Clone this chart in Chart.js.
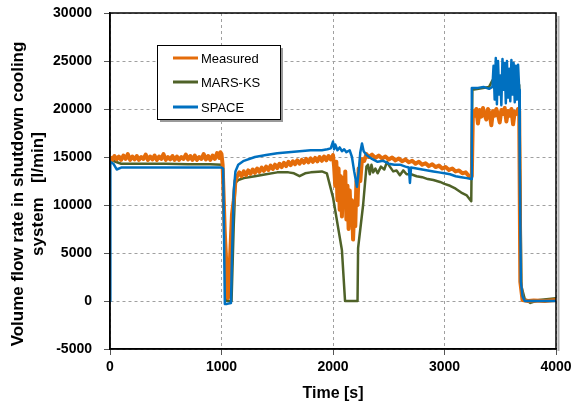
<!DOCTYPE html>
<html>
<head>
<meta charset="utf-8">
<script src="https://cdn.jsdelivr.net/npm/chart.js@4/dist/chart.umd.min.js"></script>
<style>
  html, body { margin: 0; padding: 0; background: #fff; }
</style>
</head>
<body>
<canvas id="flow_chart" width="572" height="406"></canvas>
<script>
// Measured (orange)
const measuredT = [0,20,40,60,80,100,120,140,160,180,200,220,240,260,280,300,320,340,360,380,400,420,440,460,480,500,520,540,560,580,600,620,640,660,680,700,720,740,760,780,800,820,840,860,880,900,920,940,960,980,990,1000,1010,1030,1058,1075,1094,1110,1125,1140,1160,1180,1200,1220,1240,1260,1280,1300,1320,1340,1360,1380,1400,1420,1440,1460,1480,1500,1520,1540,1560,1580,1600,1620,1640,1660,1680,1700,1720,1740,1760,1780,1800,1820,1840,1860,1880,1900,1920,1940,1960,1980,2000,2010,2020,2030,2040,2050,2060,2070,2080,2090,2100,2110,2120,2130,2140,2150,2160,2170,2180,2190,2200,2210,2220,2230,2245,2260,2280,2300,2320,2350,2380,2410,2440,2470,2500,2530,2560,2590,2620,2650,2680,2710,2740,2770,2800,2830,2860,2890,2920,2950,2980,3010,3040,3070,3100,3130,3160,3190,3220,3245,3255,3270,3285,3300,3315,3330,3345,3360,3375,3390,3405,3420,3435,3450,3465,3480,3495,3510,3525,3540,3555,3570,3585,3600,3615,3630,3645,3660,3670,3680,3700,3750,3800,3900,4000];
const measuredV = [15000,14700,15100,14750,15050,14700,15150,14800,15300,14700,15050,14750,15100,14700,15000,14800,15250,14700,15050,14750,15150,14700,15050,14800,15300,14700,15000,14750,15100,14700,15050,14700,15000,14800,15250,14750,15100,14700,15150,14700,15000,14800,15300,14750,15100,14700,15150,14800,15400,14900,15500,15300,14200,7000,300,4000,9000,10500,12500,13000,13400,13000,13500,13100,13600,13250,13700,13350,13800,13450,13900,13550,14000,13650,14100,13750,14200,13850,14300,13950,14400,14050,14500,14150,14550,14250,14650,14300,14700,14400,14800,14450,14850,14500,14900,14550,15000,14600,15050,14650,15100,14750,15200,14000,12000,14500,10500,13800,9500,13000,8800,12800,10000,13500,8500,12000,7500,11500,8000,10500,6400,9500,7800,12500,10000,13800,12500,14800,14600,15300,15000,15250,14900,15150,14850,15050,14750,14950,14650,14850,14550,14750,14450,14600,14300,14500,14200,14350,14050,14250,13950,14100,13800,13950,13650,13800,13500,13600,13300,13400,13000,13000,19800,19300,20000,18500,19900,19200,20100,19400,18900,20000,19500,18300,19800,19300,20000,19400,18600,19900,19500,20100,18700,19800,19300,20000,18400,19700,19500,20000,19800,2000,100,0,50,0,100];

// MARS-KS (green)
const marsT = [0,50,100,300,500,700,900,1000,1010,1030,1050,1090,1110,1125,1150,1200,1300,1400,1500,1600,1650,1700,1750,1800,1900,1945,2000,2080,2108,2220,2225,2270,2300,2314,2330,2345,2360,2380,2400,2430,2460,2484,2510,2540,2570,2600,2630,2660,2700,2750,2800,2850,2900,2960,3000,3050,3100,3150,3200,3240,3250,3400,3430,3450,3500,3600,3670,3690,3720,3770,3850,4000];
const marsV = [14800,14500,14300,14300,14300,14250,14250,14200,14200,7000,0,0,8000,12300,12600,12800,13000,13200,13400,13400,13300,13000,13300,13400,13500,13300,10800,5300,0,0,5500,10000,14000,14200,13200,14200,13400,13800,13300,14000,13700,14500,14000,13500,13600,13100,13600,13200,13200,13000,12900,12700,12600,12400,12200,12000,11700,11300,11000,10400,22000,22300,23000,22200,22500,22500,22500,1500,200,-200,100,300];

// SPACE (blue)
const spaceT = [0,3,30,60,100,300,500,700,900,1000,1015,1030,1050,1085,1095,1110,1125,1150,1200,1300,1400,1500,1600,1700,1800,1900,1950,1980,2000,2010,2020,2040,2060,2080,2100,2120,2150,2170,2190,2215,2230,2245,2260,2275,2300,2350,2400,2450,2500,2550,2600,2650,2680,2690,2700,2750,2800,2850,2900,2950,3000,3050,3100,3150,3200,3240,3245,3300,3350,3400,3430,3440,3450,3460,3470,3480,3490,3500,3510,3520,3530,3540,3550,3560,3570,3580,3590,3600,3610,3620,3630,3640,3650,3660,3670,3675,3685,3700,3720,3800,4000];
const spaceV = [0,14500,14300,13700,13900,13900,13900,13900,13900,13900,13800,-300,-300,-200,5000,11500,13500,14200,14600,15000,15200,15400,15500,15600,15700,15700,15800,15900,16600,15800,16300,15700,16000,15600,15800,15500,15700,15000,13500,11900,13500,15500,16400,15600,15200,14800,14500,14600,14300,14200,14200,14000,13900,12300,13900,13800,13700,13600,13500,13400,13300,13200,13000,12900,12800,12700,22200,22200,22300,22100,22300,24500,21000,25300,20500,25000,21500,23500,20400,25200,22000,24800,20600,25000,21200,24200,20800,25100,21500,24800,20700,24500,21000,24600,22000,14000,2000,500,0,0,0];

const xTicks = [0,1000,2000,3000,4000];
const yTicks = [-5000,0,5000,10000,15000,20000,25000,30000];

const seriesNames = ['Measured','MARS-KS','SPACE'];
const seriesColors = ['#E46C0A','#4F6228','#0070C0'];
const yTitle = ['Volume flow rate in shutdown cooling', 'system   [l/min]'];

function pairs(ts, vs){ return ts.map((t,i)=>({x:t, y:vs[i]})); }

const fontFam = '"Liberation Sans", Arial, sans-serif';

// plot border + shadow, y title
const frame = {
  id: 'frame',
  afterDatasetsDraw(chart){
    const {ctx, chartArea:a} = chart;
    ctx.save();
    ctx.strokeStyle = '#b0b0b0';
    ctx.lineWidth = 2;
    ctx.beginPath();
    ctx.moveTo(a.right+2.5, a.top+3);
    ctx.lineTo(a.right+2.5, a.bottom+2);
    ctx.stroke();
    ctx.strokeStyle = '#000';
    ctx.lineWidth = 1.5;
    ctx.strokeRect(a.left, a.top, a.right-a.left, a.bottom-a.top);
    ctx.restore();

    ctx.save();
    ctx.translate(0, 194);
    ctx.rotate(-Math.PI/2);
    ctx.font = 'bold 17px ' + fontFam;
    ctx.fillStyle = '#000';
    ctx.textAlign = 'center';
    ctx.textBaseline = 'middle';
    ctx.fillText(yTitle[0], 0, 18);
    ctx.fillText(yTitle[1], 0, 38);
    ctx.restore();
  }
};

// legend box inside plot
const boxLegend = {
  id: 'boxLegend',
  afterDraw(chart){
    const {ctx} = chart;
    const x = 157, y = 45, w = 123, h = 74;
    ctx.save();
    ctx.fillStyle = '#9a9a9a';
    ctx.fillRect(x+3, y+3, w, h);
    ctx.fillStyle = '#fff';
    ctx.fillRect(x, y, w, h);
    ctx.strokeStyle = '#000';
    ctx.lineWidth = 1;
    ctx.strokeRect(x+0.5, y+0.5, w, h);
    ctx.font = '13px ' + fontFam;
    ctx.textBaseline = 'middle';
    const rows = [58, 82, 107];
    seriesNames.forEach((n,i)=>{
      ctx.strokeStyle = seriesColors[i];
      ctx.lineWidth = 3;
      ctx.beginPath();
      ctx.moveTo(173, rows[i]);
      ctx.lineTo(198, rows[i]);
      ctx.stroke();
      ctx.fillStyle = '#000';
      ctx.fillText(n, 201, rows[i]+1);
    });
    ctx.restore();
  }
};

const ctx = document.getElementById('flow_chart').getContext('2d');
const chart = new Chart(ctx, {
  type: 'line',
  data: {
    datasets: [
      {label: seriesNames[2], data: pairs(spaceT, spaceV), borderColor: seriesColors[2], borderWidth: 2.5, order: 0},
      {label: seriesNames[0], data: pairs(measuredT, measuredV), borderColor: seriesColors[0], borderWidth: 4, order: 1},
      {label: seriesNames[1], data: pairs(marsT, marsV), borderColor: seriesColors[1], borderWidth: 2.5, order: 2}
    ]
  },
  options: {
    responsive: false,
    animation: false,
    devicePixelRatio: 1,
    parsing: false,
    elements: { point: { radius: 0 }, line: { tension: 0, borderJoinStyle: 'round' } },
    layout: { padding: { top: 13, right: 16, left: 0, bottom: 0 } },
    plugins: { legend: { display: false }, tooltip: { enabled: false } },
    scales: {
      x: {
        type: 'linear', min: 0, max: 4000,
        afterBuildTicks: s => { s.ticks = xTicks.map(v => ({value: v})); },
        afterFit: s => { s.height = 57; s.paddingLeft = 0; s.paddingRight = 0; },
        grid: { color: '#a0a0a0', lineWidth: 1, tickLength: 6, tickColor: '#555', tickBorderDash: [] },
        border: { display: true, color: '#000', width: 1.5, dash: [3,3] },
        ticks: { color: '#000', font: { family: fontFam, size: 14, weight: 'bold' }, padding: 4, maxRotation: 0, callback: v => String(v) },
        title: { display: true, text: 'Time [s]', color: '#000', font: { family: fontFam, size: 16, weight: 'bold' }, padding: { top: 0, bottom: 3 } }
      },
      y: {
        type: 'linear', min: -5000, max: 30000,
        afterBuildTicks: s => { s.ticks = yTicks.map(v => ({value: v})); },
        afterFit: s => { s.width = 110; s.paddingTop = 0; s.paddingBottom = 0; },
        grid: { color: '#a0a0a0', lineWidth: 1, tickLength: 6, tickColor: '#555', tickBorderDash: [] },
        border: { display: true, color: '#000', width: 1.5, dash: [3,3] },
        ticks: { color: '#000', font: { family: fontFam, size: 14, weight: 'bold' }, padding: 12, callback: v => String(v) },
        title: { display: false }
      }
    }
  },
  plugins: [frame, boxLegend]
});
</script>
</body>
</html>
